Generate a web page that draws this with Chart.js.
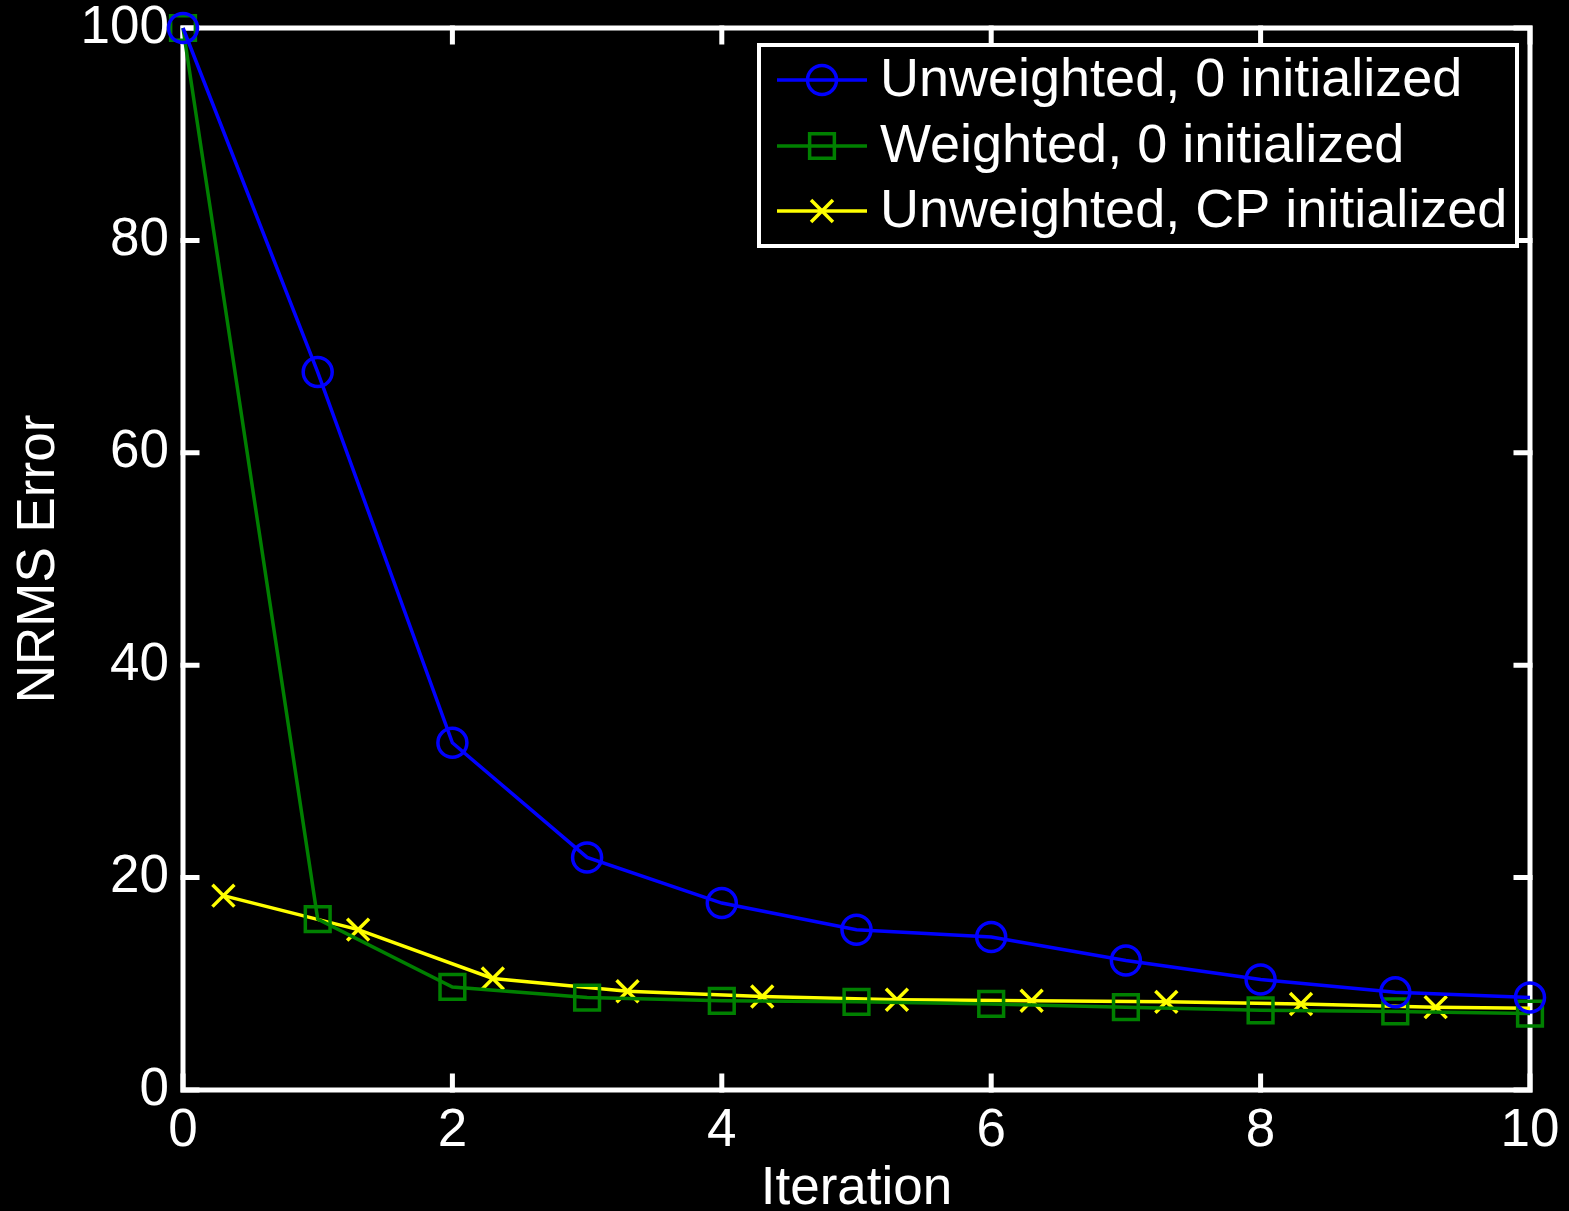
<!DOCTYPE html>
<html>
<head>
<meta charset="utf-8">
<title>NRMS Error vs Iteration</title>
<script src="https://cdn.jsdelivr.net/npm/chart.js@4.4.1/dist/chart.umd.min.js"></script>
<style>
  html, body { margin: 0; padding: 0; background: #000; }
  canvas { display: block; }
</style>
</head>
<body>
<canvas id="nrmsChart" width="1569" height="1211"></canvas>
<script>
// values
const iterations = [0, 1, 2, 3, 4, 5, 6, 7, 8, 9, 10];
const unweightedZero = [100, 67.6, 32.7, 21.9, 17.6, 15.1, 14.4, 12.2, 10.4, 9.2, 8.7];
const weightedZero = [100, 16.1, 9.7, 8.7, 8.4, 8.3, 8.1, 7.8, 7.5, 7.4, 7.2];
const cpIterations = [0.3, 1.3, 2.3, 3.3, 4.3, 5.3, 6.3, 7.3, 8.3, 9.3, 10];
const unweightedCp = [18.3, 15.1, 10.5, 9.3, 8.8, 8.5, 8.4, 8.3, 8.1, 7.8, 7.7];
const cpMarkerShown = [true, true, true, true, true, true, true, true, true, true, false];
const xTicks = [0, 2, 4, 6, 8, 10];
const yTicks = [0, 20, 40, 60, 80, 100];

const FONT = "'Liberation Sans', Arial, sans-serif";

function toPoints(xs, ys) {
    return xs.map((x, i) => ({ x: x, y: ys[i] }));
}

function noScalePadding(scale) {
    scale.paddingTop = 0;
    scale.paddingBottom = 0;
    scale.paddingLeft = 0;
    scale.paddingRight = 0;
}

// MATLAB style box with inward ticks on all four sides
const frameBox = {
    id: "frameBox",
    beforeDatasetsDraw(chart) {
        const { ctx, chartArea: a, scales } = chart;
        const len = 14;
        ctx.save();
        ctx.strokeStyle = "#fff";
        ctx.lineWidth = 5;
        ctx.lineCap = "square";
        ctx.strokeRect(a.left, a.top, a.right - a.left, a.bottom - a.top);
        ctx.beginPath();
        xTicks.forEach((t) => {
            const px = scales.x.getPixelForValue(t);
            ctx.moveTo(px, a.bottom); ctx.lineTo(px, a.bottom - len);
            ctx.moveTo(px, a.top); ctx.lineTo(px, a.top + len);
        });
        yTicks.forEach((t) => {
            const py = scales.y.getPixelForValue(t);
            ctx.moveTo(a.left, py); ctx.lineTo(a.left + len, py);
            ctx.moveTo(a.right, py); ctx.lineTo(a.right - len, py);
        });
        ctx.stroke();
        ctx.restore();
    },
};

// legend box drawn inside the plot, top right
const insideLegend = {
    id: "insideLegend",
    afterDraw(chart) {
        const ctx = chart.ctx;
        const boxX = 759, boxY = 45, boxW = 758, boxH = 201;
        const rows = [80, 146, 211];
        ctx.save();
        ctx.fillStyle = "#000";
        ctx.fillRect(boxX, boxY, boxW, boxH);
        ctx.strokeStyle = "#fff";
        ctx.lineWidth = 4;
        ctx.strokeRect(boxX, boxY, boxW, boxH);
        chart.data.datasets.forEach((ds, i) => {
            const y = rows[i];
            ctx.strokeStyle = ds.borderColor;
            ctx.lineWidth = ds.borderWidth;
            ctx.beginPath();
            ctx.moveTo(777, y);
            ctx.lineTo(867, y);
            ctx.stroke();
            ctx.fillStyle = "rgba(0,0,0,0)";
            ctx.lineWidth = ds.pointBorderWidth;
            Chart.helpers.drawPoint(ctx, {
                pointStyle: ds.pointStyle,
                radius: ds.legendRadius,
                rotation: 0,
                borderWidth: ds.pointBorderWidth,
            }, 822, y);
            ctx.fillStyle = "#fff";
            ctx.font = "54px " + FONT;
            ctx.textBaseline = "middle";
            ctx.textAlign = "left";
            ctx.fillText(ds.label, 880, y + 1);
        });
        ctx.restore();
    },
};

const ctx = document.getElementById("nrmsChart").getContext("2d");

new Chart(ctx, {
    type: "line",
    plugins: [frameBox, insideLegend],
    data: {
        datasets: [
            {
                label: "Unweighted, 0 initialized",
                data: toPoints(iterations, unweightedZero),
                borderColor: "#0000ff",
                borderWidth: 3.5,
                pointStyle: "circle",
                pointRadius: 14.5,
                legendRadius: 14.5,
                pointBorderWidth: 3.5,
                pointBorderColor: "#0000ff",
                pointBackgroundColor: "rgba(0,0,0,0)",
                tension: 0,
                clip: false,
            },
            {
                label: "Weighted, 0 initialized",
                data: toPoints(iterations, weightedZero),
                borderColor: "#008000",
                borderWidth: 3.5,
                pointStyle: "rect",
                pointRadius: 17.5,
                legendRadius: 17.5,
                pointBorderWidth: 3.5,
                pointBorderColor: "#008000",
                pointBackgroundColor: "rgba(0,0,0,0)",
                tension: 0,
                clip: false,
            },
            {
                label: "Unweighted, CP initialized",
                data: toPoints(cpIterations, unweightedCp),
                borderColor: "#ffff00",
                borderWidth: 3.5,
                pointStyle: "crossRot",
                pointRadius: cpMarkerShown.map((s) => (s ? 15.5 : 0)),
                legendRadius: 15.5,
                pointBorderWidth: 3.5,
                pointBorderColor: "#ffff00",
                pointBackgroundColor: "rgba(0,0,0,0)",
                tension: 0,
                clip: false,
            },
        ],
    },
    options: {
        responsive: false,
        animation: false,
        events: [],
        layout: {
            padding: { top: 28, right: 39, left: 0, bottom: 0 },
        },
        plugins: {
            legend: { display: false },
            tooltip: { enabled: false },
        },
        scales: {
            x: {
                type: "linear",
                min: 0,
                max: 10,
                afterBuildTicks: (scale) => {
                    scale.ticks = xTicks.map((v) => ({ value: v }));
                },
                afterFit: (scale) => {
                    scale.height = 121;
                    noScalePadding(scale);
                },
                grid: { display: false, drawTicks: false },
                border: { display: false },
                ticks: {
                    color: "#fff",
                    padding: 15,
                    maxRotation: 0,
                    font: { family: FONT, size: 53, lineHeight: 1 },
                },
                title: {
                    display: true,
                    text: "Iteration",
                    color: "#fff",
                    padding: { top: 0, bottom: 0 },
                    font: { family: FONT, size: 53, lineHeight: 0.8 },
                },
            },
            y: {
                type: "linear",
                min: 0,
                max: 100,
                afterBuildTicks: (scale) => {
                    scale.ticks = yTicks.map((v) => ({ value: v }));
                },
                afterFit: (scale) => {
                    scale.width = 183;
                    noScalePadding(scale);
                },
                grid: { display: false, drawTicks: false },
                border: { display: false },
                ticks: {
                    color: "#fff",
                    padding: 14,
                    font: { family: FONT, size: 53, lineHeight: 1 },
                },
                title: {
                    display: true,
                    text: "NRMS Error",
                    color: "#fff",
                    padding: { top: 13, bottom: 0 },
                    font: { family: FONT, size: 53, lineHeight: 1 },
                },
            },
        },
    },
});
</script>
</body>
</html>
